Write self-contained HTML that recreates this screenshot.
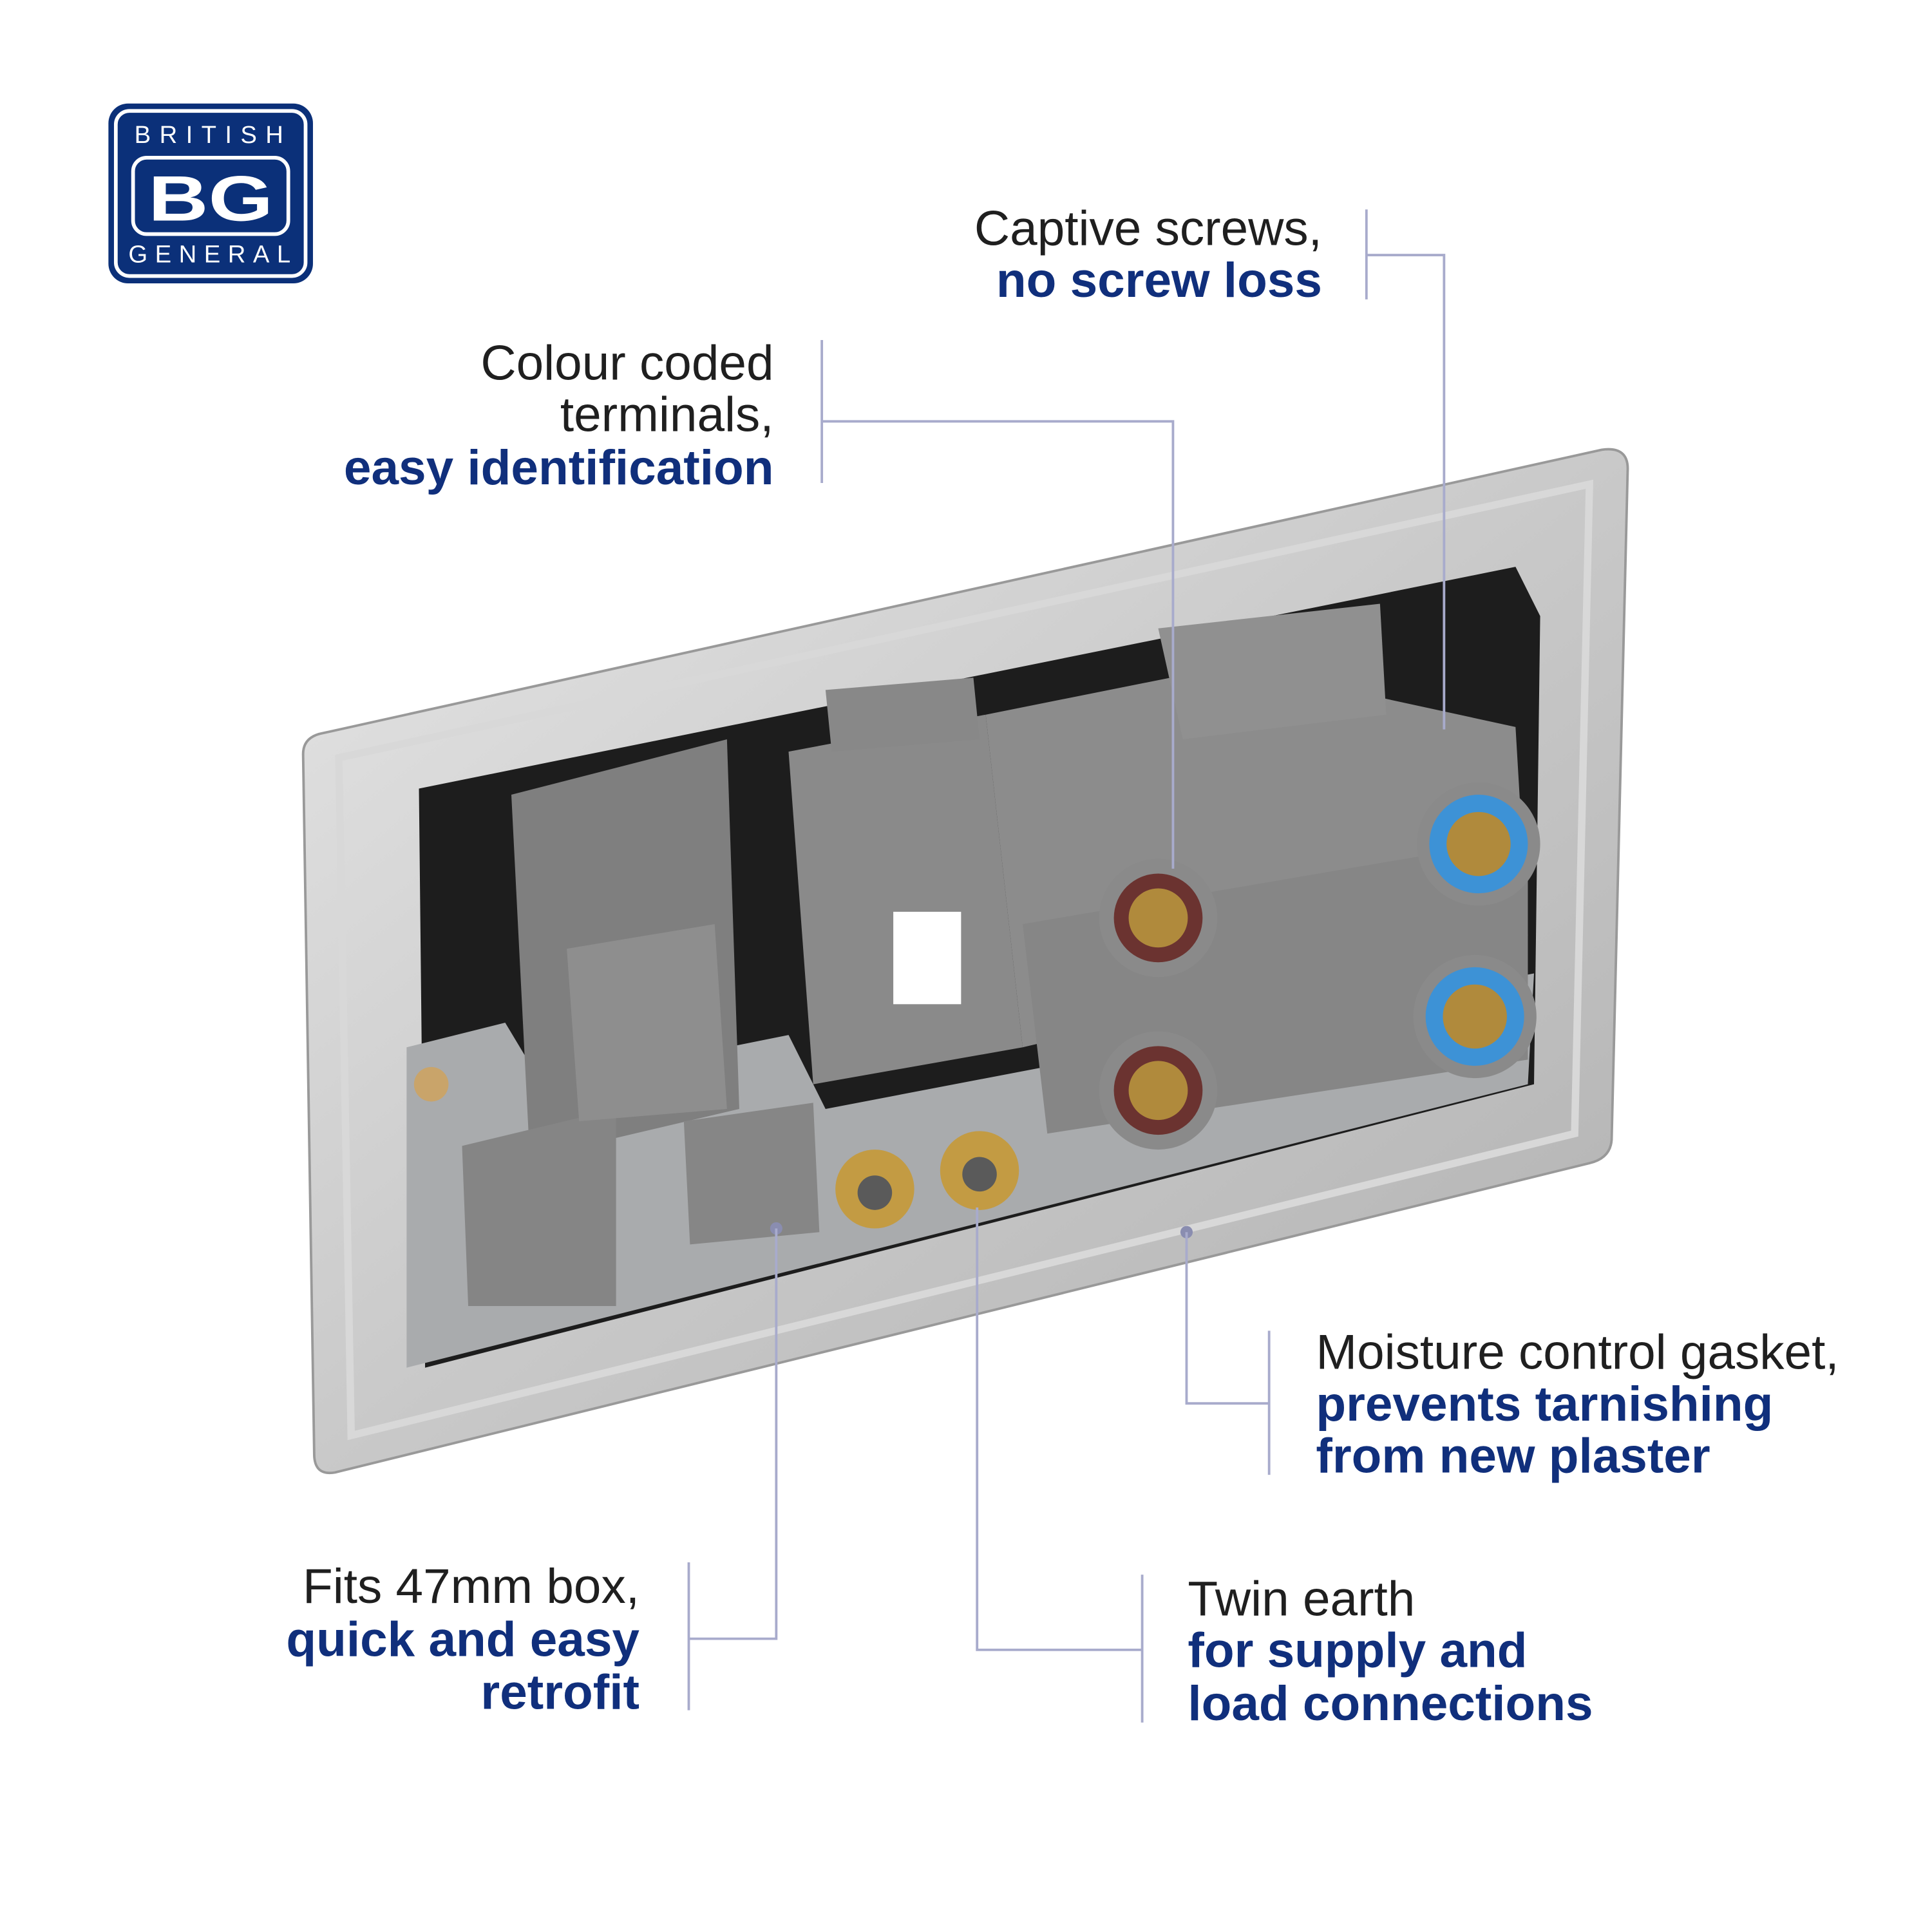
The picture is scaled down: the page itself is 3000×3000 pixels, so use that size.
<!DOCTYPE html>
<html><head><meta charset="utf-8"><style>
html,body{margin:0;padding:0;background:#fff;}
svg{display:block}
text{font-family:"Liberation Sans",Arial,sans-serif}
</style></head><body>
<svg width="3000" height="3000" viewBox="0 0 1568 1568" xmlns="http://www.w3.org/2000/svg">
<rect width="1568" height="1568" fill="#fff"/>
<!-- logo -->
<rect x="88" y="84" width="166" height="146" rx="16" fill="#0b3079"/>
<rect x="94" y="90" width="154" height="134" rx="11" fill="none" stroke="#fff" stroke-width="3"/>
<text x="173" y="116" font-size="20" fill="#fff" text-anchor="middle" letter-spacing="7">BRITISH</text>
<rect x="108" y="128" width="126" height="62" rx="11" fill="none" stroke="#fff" stroke-width="3"/>
<text x="171" y="179" font-size="52" font-weight="bold" fill="#fff" text-anchor="middle" transform="translate(171 0) scale(1.3 1) translate(-171 0)">BG</text>
<text x="173" y="213" font-size="20" fill="#fff" text-anchor="middle" letter-spacing="6">GENERAL</text>

<!-- product -->
<defs>
<linearGradient id="pl" x1="0" y1="0" x2="1" y2="1">
<stop offset="0" stop-color="#e6e6e6"/><stop offset="0.5" stop-color="#c9c9c9"/><stop offset="1" stop-color="#b0b0b0"/></linearGradient>
</defs>
<path d="M262 595 L1300 365 Q1322 362 1321 382 L1308 925 Q1307 940 1290 944 L272 1195 Q255 1198 255 1180 L246 612 Q246 598 262 595Z" fill="url(#pl)" stroke="#999" stroke-width="2"/>
<path d="M275 615 L1290 393 L1278 920 L285 1165Z" fill="none" stroke="#d8d8d8" stroke-width="6"/>
<path d="M340 640 L1230 460 L1250 500 L1245 880 L345 1110Z" fill="#1d1d1d"/>
<path d="M330 850 L410 830 L440 880 L640 840 L670 900 L1245 790 L1240 880 L330 1110Z" fill="#a9abad"/>
<path d="M415 645 L590 600 L600 900 L430 940Z" fill="#7f7f7f"/>
<path d="M640 610 L800 580 L830 850 L660 880Z" fill="#8a8a8a"/>
<path d="M800 580 L1000 540 L1230 590 L1240 760 L1000 810 L830 850Z" fill="#8c8c8c"/>
<path d="M940 510 L1120 490 L1125 580 L960 600Z" fill="#909090"/>
<path d="M670 560 L790 550 L795 600 L675 610Z" fill="#888"/>
<path d="M830 750 L1240 680 L1240 860 L850 920Z" fill="#868686"/>
<path d="M375 930 L500 900 L500 1060 L380 1060Z" fill="#858585"/>
<path d="M555 910 L660 895 L665 1000 L560 1010Z" fill="#868686"/>
<path d="M460 770 L580 750 L590 900 L470 910Z" fill="#8e8e8e"/>
<rect x="725" y="740" width="55" height="75" fill="#fff"/>
<circle cx="940" cy="745" r="48" fill="#8a8a8a"/><circle cx="940" cy="745" r="36" fill="#6b3330"/><circle cx="940" cy="745" r="24" fill="#b08a3c"/>
<circle cx="940" cy="885" r="48" fill="#8a8a8a"/><circle cx="940" cy="885" r="36" fill="#6b3330"/><circle cx="940" cy="885" r="24" fill="#b08a3c"/>
<circle cx="1200" cy="685" r="50" fill="#8a8a8a"/><circle cx="1200" cy="685" r="40" fill="#3d92d6"/><circle cx="1200" cy="685" r="26" fill="#b08a3c"/>
<circle cx="1197" cy="825" r="50" fill="#8a8a8a"/><circle cx="1197" cy="825" r="40" fill="#3d92d6"/><circle cx="1197" cy="825" r="26" fill="#b08a3c"/>
<circle cx="710" cy="965" r="32" fill="#c39b43"/><circle cx="710" cy="968" r="14" fill="#5a5a5a"/>
<circle cx="795" cy="950" r="32" fill="#c39b43"/><circle cx="795" cy="953" r="14" fill="#5a5a5a"/>
<circle cx="350" cy="880" r="14" fill="#c9a46a"/>
<circle cx="630" cy="997" r="5" fill="#8a8db0"/><circle cx="963" cy="1000" r="5" fill="#8a8db0"/>

<g stroke="#a8abcc" stroke-width="2" fill="none">
<path d="M1109 170 V243 M1109 207 H1172 V592"/>
<path d="M667 276 V392 M667 342 H952 V705"/>
<path d="M1030 1080 V1197 M1030 1139 H963 V1000"/>
<path d="M559 1268 V1388 M559 1330 H630 V997"/>
<path d="M927 1278 V1398 M927 1339 H793 V980"/>
</g>

<g font-size="40">
<text x="1073" y="199" text-anchor="end" fill="#1f1f1f">Captive screws,</text>
<text x="1073" y="241" text-anchor="end" fill="#102f7c" font-weight="bold">no screw loss</text>
<text x="628" y="308" text-anchor="end" fill="#1f1f1f">Colour coded</text>
<text x="628" y="350" text-anchor="end" fill="#1f1f1f">terminals,</text>
<text x="628" y="393" text-anchor="end" fill="#102f7c" font-weight="bold">easy identification</text>
<text x="1068" y="1111" fill="#1f1f1f">Moisture control gasket,</text>
<text x="1068" y="1153" fill="#102f7c" font-weight="bold">prevents tarnishing</text>
<text x="1068" y="1195" fill="#102f7c" font-weight="bold">from new plaster</text>
<text x="519" y="1301" text-anchor="end" fill="#1f1f1f">Fits 47mm box,</text>
<text x="519" y="1344" text-anchor="end" fill="#102f7c" font-weight="bold">quick and easy</text>
<text x="519" y="1387" text-anchor="end" fill="#102f7c" font-weight="bold">retrofit</text>
<text x="964" y="1311" fill="#1f1f1f">Twin earth</text>
<text x="964" y="1353" fill="#102f7c" font-weight="bold">for supply and</text>
<text x="964" y="1396" fill="#102f7c" font-weight="bold">load connections</text>
</g>
</svg>
</body></html>
